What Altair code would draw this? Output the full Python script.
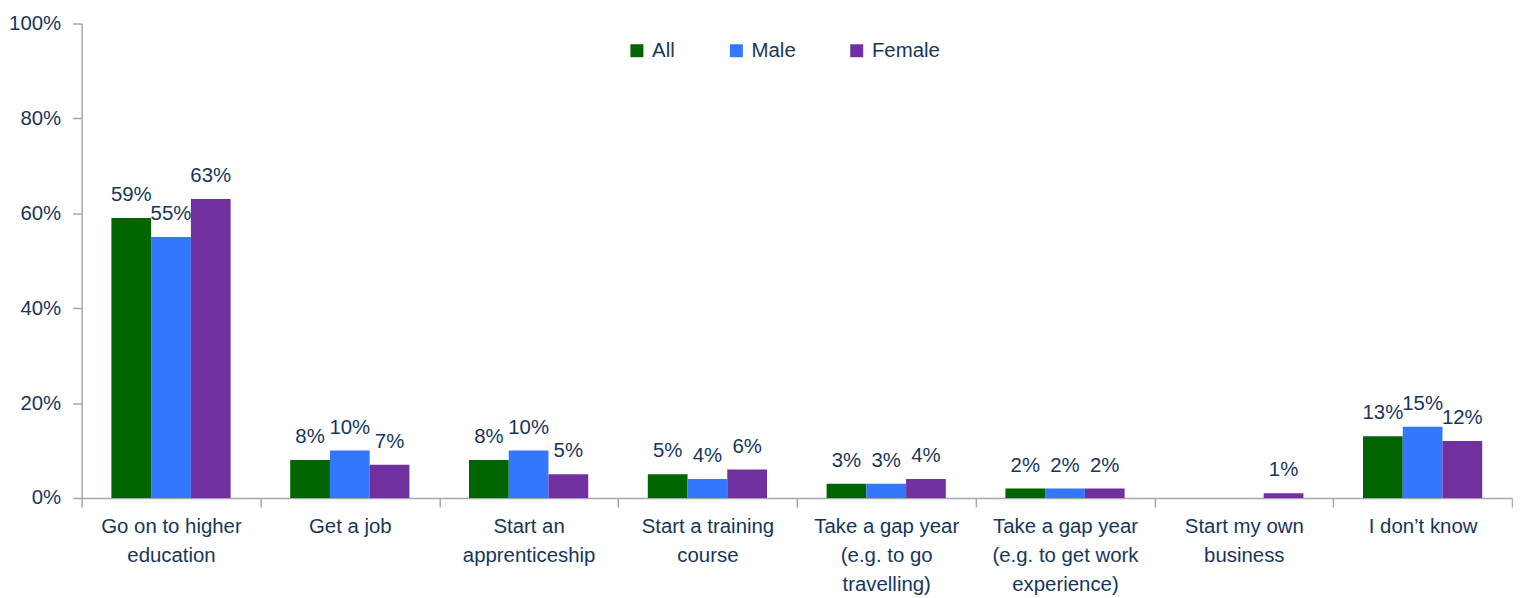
import altair as alt
import pandas as pd

categories = [
    "Go on to higher|education",
    "Get a job",
    "Start an|apprenticeship",
    "Start a training|course",
    "Take a gap year|(e.g. to go|travelling)",
    "Take a gap year|(e.g. to get work|experience)",
    "Start my own|business",
    "I don\u2019t know",
]
series = ["All", "Male", "Female"]
all_vals = [59, 8, 8, 5, 3, 2, None, 13]
male_vals = [55, 10, 10, 4, 3, 2, None, 15]
female_vals = [63, 7, 5, 6, 4, 2, 1, 12]
colors = ["#006400", "#3377FF", "#7030A0"]

rows = []
for s, vals in zip(series, [all_vals, male_vals, female_vals]):
    for c, v in zip(categories, vals):
        rows.append({"cat": c, "series": s, "value": None if v is None else v / 100})
df = pd.DataFrame(rows)

FONT = "Liberation Sans, Arial"
FS = 20.5
TXT = "#17365D"
AX = "#A6A6B0"

x = alt.X("cat:N", sort=categories, title=None,
          scale=alt.Scale(paddingInner=0, paddingOuter=0),
          axis=alt.Axis(labelAngle=0, labelExpr="split(datum.label, '|')",
                        labelFont=FONT, labelFontSize=FS, labelColor=TXT,
                        labelLineHeight=29, labelPadding=10, labelBaseline="top",
                        tickBand="extent", tickSize=9, tickColor=AX, domainColor=AX,
                        domainWidth=1.5, tickWidth=1.5, labelLimit=300))
xo = alt.XOffset("series:N", sort=series,
                 scale=alt.Scale(paddingOuter=0.75, paddingInner=0))
y = alt.Y("value:Q", title=None,
          scale=alt.Scale(domain=[0, 1]),
          axis=alt.Axis(values=[0, 0.2, 0.4, 0.6, 0.8, 1.0], format=".0%",
                        grid=False, labelFont=FONT, labelFontSize=FS, labelColor=TXT,
                        tickSize=9, tickColor=AX, domainColor=AX, domainWidth=1.5,
                        tickWidth=1.5, labelPadding=12))
color = alt.Color("series:N", sort=series,
                  scale=alt.Scale(domain=series, range=colors),
                  legend=alt.Legend(title=None, orient="none", direction="horizontal",
                                    legendX=548, legendY=17, symbolType="square",
                                    symbolSize=170, symbolStrokeWidth=0,
                                    labelFont=FONT, labelFontSize=FS, labelColor=TXT,
                                    columnPadding=51, labelOffset=5))

base = alt.Chart(df).transform_filter("isValid(datum.value)")
bars = base.mark_bar().encode(x=x, xOffset=xo, y=y, color=color)
labels = base.mark_text(font=FONT, fontSize=FS, color=TXT, baseline="bottom", dy=-13).encode(
    x=x, xOffset=xo, y=y, text=alt.Text("value:Q", format=".0%"))

chart = alt.layer(bars, labels).properties(
    width=1438, height=477,
    autosize=alt.AutoSizeParams(type="none"),
    padding={"left": 74, "top": 14, "right": 1, "bottom": 110},
).configure_view(stroke=None)

chart.save("out.html", embed_options={"renderer": "svg", "actions": False})
